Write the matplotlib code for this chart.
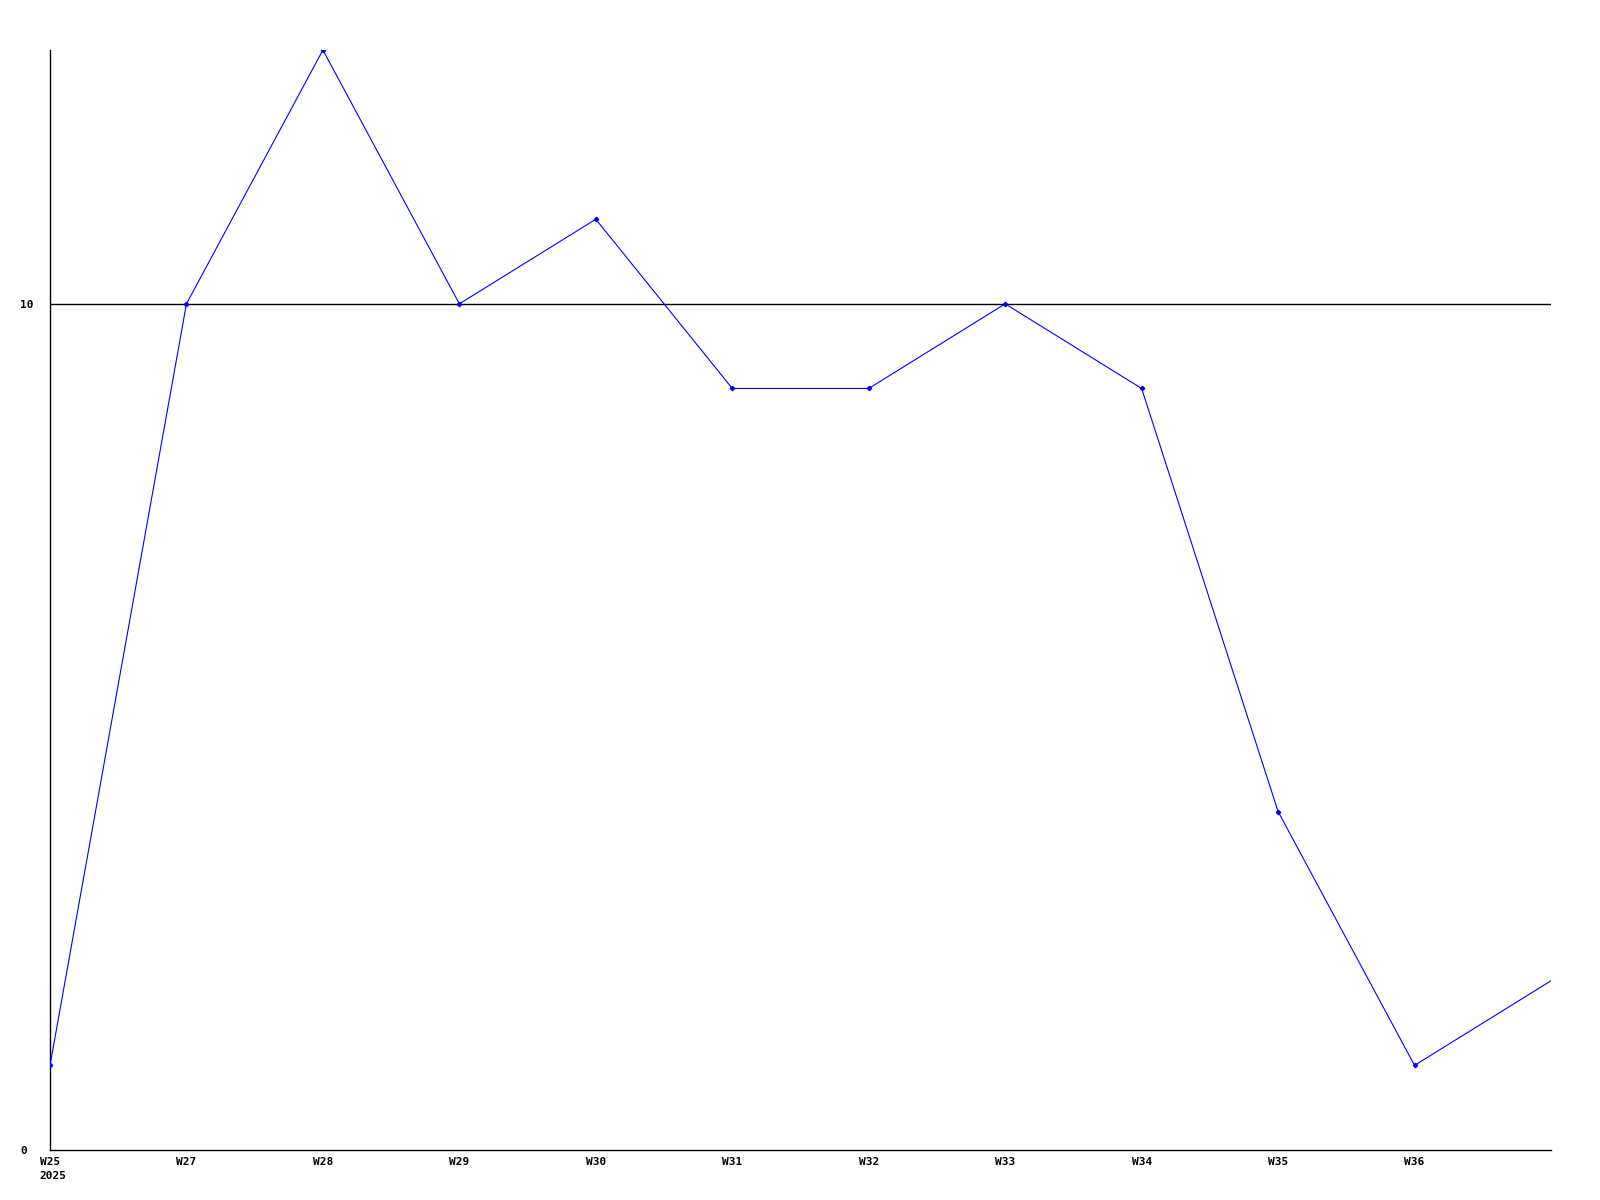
import matplotlib
matplotlib.use("Agg")
import matplotlib.pyplot as plt
from matplotlib.transforms import ScaledTranslation

positions = [0, 1, 2, 3, 4, 5, 6, 7, 8, 9, 10, 11]
values = [1, 10, 13, 10, 11, 9, 9, 10, 9, 4, 1, 2]
tick_positions = [0, 1, 2, 3, 4, 5, 6, 7, 8, 9, 10]
tick_labels = ["W25\n2025", "W27", "W28", "W29", "W30", "W31", "W32", "W33", "W34", "W35", "W36"]
y_ticks = [0, 10]

fig = plt.figure(figsize=(16, 12), dpi=100)
ax = fig.add_axes([50/1600, 1 - 1150/1200, (1551-50)/1600, 1100/1200])

ax.plot(positions[:-1], values[:-1], color=(0, 0, 1), lw=0.8, marker='D', ms=2.2, zorder=3)
ax.plot(positions[-2:], values[-2:], color=(0, 0, 1), lw=0.8, zorder=3)
ax.axhline(10, color='black', lw=1.0, zorder=1)

ax.set_xlim(0, 11)
ax.set_ylim(0, 13)
ax.set_xticks(tick_positions)
ax.set_xticklabels(tick_labels, fontfamily='DejaVu Sans Mono', fontweight='bold', fontsize=8,
                   linespacing=1.55, va='top')
ax.set_yticks(y_ticks)
ax.set_yticklabels([str(v) for v in y_ticks], fontfamily='DejaVu Sans Mono', fontweight='bold',
                   fontsize=8, ha='left')
ax.tick_params(axis='both', length=0)
ax.tick_params(axis='y', pad=21.6)
ax.tick_params(axis='x', pad=5)
for s in ['top', 'right']:
    ax.spines[s].set_visible(False)
for s in ['left', 'bottom']:
    ax.spines[s].set_linewidth(1.0)

first = ax.get_xticklabels()[0]
first.set_multialignment('left')
first.set_transform(first.get_transform() + ScaledTranslation(3/100, 0, fig.dpi_scale_trans))

fig.savefig("out.png", dpi=100)
